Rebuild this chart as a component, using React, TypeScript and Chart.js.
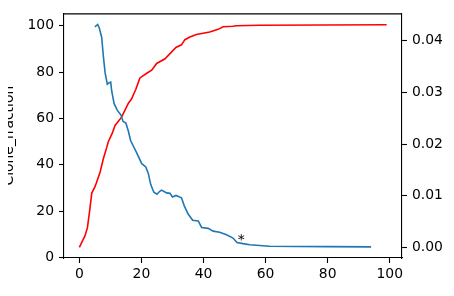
import React, { useEffect, useRef } from "react";
import { Chart, registerables } from "chart.js";

Chart.register(...registerables);

// Blue series (left axis): clone fraction
const blueX = [5.0, 5.9, 6.4, 7.2, 7.7, 8.3, 9.0, 9.6, 10.1, 10.4, 11.2, 12.2, 13.4, 14.1, 15.0, 15.8, 16.5, 18.4, 20.1, 21.4, 22.2, 23.0, 24.0, 25.0, 25.9, 26.5, 28.1, 29.2, 30.0, 31.1, 32.9, 33.8, 35.0, 36.5, 38.3, 39.4, 41.5, 43.1, 45.2, 47.4, 49.5, 50.8, 52.7, 54.9, 58.1, 61.3, 70, 80, 94];
const blueY = [99.6, 100.6, 99.2, 95, 87.3, 79.7, 74.8, 75.5, 75.7, 72, 66.4, 63.6, 61.5, 58.7, 58.0, 54.5, 50.5, 45.4, 40.5, 39.1, 36.3, 31.5, 28.2, 27.3, 28.6, 29.1, 27.9, 27.7, 26.1, 26.8, 25.8, 22.3, 18.9, 16.1, 15.8, 13.0, 12.6, 11.4, 10.9, 9.8, 8.4, 6.5, 6.0, 5.5, 5.2, 4.9, 4.75, 4.7, 4.6];

// Red series (right axis)
const redX = [0, 1.2, 1.8, 2.6, 3.3, 4.0, 5.0, 5.5, 6.7, 7.7, 8.8, 9.3, 10.6, 11.5, 13.6, 15.8, 16.8, 18.2, 19.5, 21.7, 23.3, 24.9, 27.6, 31.1, 32.9, 34, 35.6, 37.7, 42, 44.7, 46.3, 49.5, 50.6, 58, 99];
const redY = [0, 0.0015, 0.0022, 0.0038, 0.007, 0.0105, 0.0117, 0.0125, 0.0146, 0.0171, 0.0193, 0.0204, 0.0221, 0.0236, 0.0252, 0.0279, 0.0287, 0.0306, 0.0328, 0.0337, 0.0343, 0.0356, 0.0365, 0.0387, 0.0392, 0.0402, 0.0407, 0.0412, 0.0417, 0.0422, 0.0427, 0.0428, 0.0429, 0.043, 0.0431];

const xTicks = [0, 20, 40, 60, 80, 100];
const yLeftTicks = [0, 20, 40, 60, 80, 100];
const yRightTicks = [0, 0.01, 0.02, 0.03, 0.04];

const yLeftTitle = "Clone_fraction";
const annotText = "*";
const annotX = [51];
const annotY = [6.0];

const FONT = "DejaVu Sans";
const FS = 13.9;

export default function App() {
  const ref = useRef<HTMLCanvasElement | null>(null);

  useEffect(() => {
    document.body.style.margin = "0";
    const canvas = ref.current;
    if (!canvas) return;

    const overlay = {
      id: "overlay",
      afterDraw(chart: any) {
        const ctx = chart.ctx;
        const { left, right, top, bottom } = chart.chartArea;
        ctx.save();
        // top spine
        ctx.strokeStyle = "#000";
        ctx.lineWidth = 1.1;
        ctx.beginPath();
        ctx.moveTo(left, top + 0.5);
        ctx.lineTo(right, top + 0.5);
        ctx.stroke();
        // annotation
        ctx.fillStyle = "#000";
        ctx.font = `${FS}px '${FONT}'`;
        ctx.textAlign = "left";
        ctx.textBaseline = "alphabetic";
        for (let i = 0; i < annotX.length; i++) {
          const px = chart.scales.x.getPixelForValue(annotX[i]);
          const py = chart.scales.y.getPixelForValue(annotY[i]);
          ctx.fillText(annotText, px, py);
        }
        ctx.restore();
        // clipped y-axis title
        ctx.save();
        ctx.beginPath();
        ctx.rect(8, 0, 60, chart.height);
        ctx.clip();
        ctx.translate(12.5, (top + bottom) / 2);
        ctx.rotate(-Math.PI / 2);
        ctx.fillStyle = "#000";
        ctx.font = `${FS}px '${FONT}'`;
        ctx.textAlign = "center";
        ctx.textBaseline = "alphabetic";
        ctx.fillText(yLeftTitle, 0, 0);
        ctx.restore();
      },
    };

    const tickFont = { family: FONT, size: FS };
    const gridCfg = {
      drawOnChartArea: false,
      drawTicks: true,
      tickLength: 5,
      tickWidth: 1.1,
      tickColor: "#000",
      color: "#000",
    };

    const chart = new Chart(canvas, {
      type: "line",
      data: {
        datasets: [
          {
            data: blueX.map((x, i) => ({ x, y: blueY[i] })),
            borderColor: "#1f77b4",
            borderWidth: 1.6,
            pointRadius: 0,
            tension: 0,
            yAxisID: "y",
          },
          {
            data: redX.map((x, i) => ({ x, y: redY[i] })),
            borderColor: "#ff0000",
            borderWidth: 1.6,
            pointRadius: 0,
            tension: 0,
            yAxisID: "y2",
          },
        ],
      },
      options: {
        responsive: false,
        animation: false,
        devicePixelRatio: 1,
        layout: { padding: { top: 7, left: 0, right: 0, bottom: 0 } },
        plugins: { legend: { display: false }, tooltip: { enabled: false } },
        scales: {
          x: {
            type: "linear",
            min: -4.95,
            max: 103.95,
            afterBuildTicks: (s: any) => {
              s.ticks = xTicks.map((v) => ({ value: v }));
            },
            afterFit: (s: any) => {
              s.height = 38;
            },
            ticks: { font: tickFont, color: "#000", padding: 3, maxRotation: 0, autoSkip: false },
            grid: gridCfg,
            border: { display: true, color: "#000", width: 1.1 },
          },
          y: {
            type: "linear",
            position: "left",
            min: -0.2,
            max: 105.4,
            afterBuildTicks: (s: any) => {
              s.ticks = yLeftTicks.map((v) => ({ value: v }));
            },
            afterFit: (s: any) => {
              s.width = 64;
            },
            ticks: { font: tickFont, color: "#000", padding: 5, autoSkip: false },
            grid: gridCfg,
            border: { display: true, color: "#000", width: 1.1 },
          },
          y2: {
            type: "linear",
            position: "right",
            min: -0.00207,
            max: 0.0453,
            afterBuildTicks: (s: any) => {
              s.ticks = yRightTicks.map((v) => ({ value: v }));
            },
            afterFit: (s: any) => {
              s.width = 52;
            },
            ticks: {
              font: tickFont,
              color: "#000",
              padding: 5,
              autoSkip: false,
              callback: (v: any) => Number(v).toFixed(2),
            },
            grid: gridCfg,
            border: { display: true, color: "#000", width: 1.1 },
          },
        },
      },
      plugins: [overlay],
    } as any);

    return () => chart.destroy();
  }, []);

  return (
    <div style={{ position: "absolute", left: 0, top: 0, width: 454, height: 296, background: "#fff" }}>
      <canvas ref={ref} width={454} height={296} style={{ display: "block", width: 454, height: 296 }} />
    </div>
  );
}
